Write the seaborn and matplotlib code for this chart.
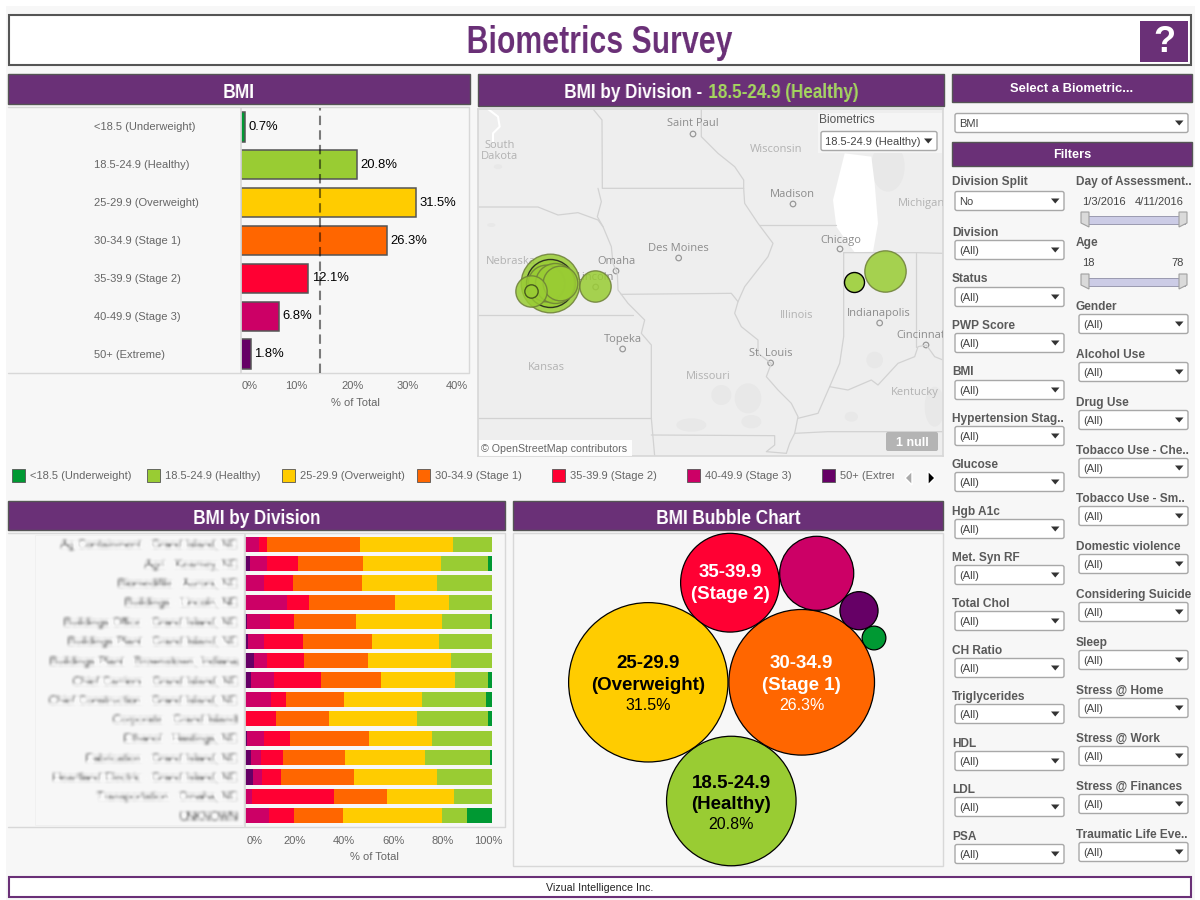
#!/usr/bin/env python3

import numpy as np
import pandas as pd
import matplotlib
matplotlib.use('Agg')
import matplotlib.pyplot as plt
import matplotlib.transforms as mtransforms
from matplotlib.patches import Rectangle, FancyBboxPatch, Polygon, Ellipse
import seaborn as sns

# --- data ---
bmi_labels = ['<18.5 (Underweight)', '18.5-24.9 (Healthy)', '25-29.9 (Overweight)',
              '30-34.9 (Stage 1)', '35-39.9 (Stage 2)', '40-49.9 (Stage 3)', '50+ (Extreme)']
bmi_colors = ['#009933', '#99CC33', '#FFCC00', '#FF6600', '#FF0033', '#CC0066', '#660066']
bmi_pct = [0.7, 20.8, 31.5, 26.3, 12.1, 6.8, 1.8]
bmi_average = 14.28
bmi_ticks = [0, 10, 20, 30, 40]

divisions = ['Ag Containment - Grand Island, NE', 'Agri - Kearney, NE', 'Biomedifile - Aurora, NE',
             'Buildings - Lincoln, NE', 'Buildings Office - Grand Island, NE',
             'Buildings Plant - Grand Island, NE', 'Buildings Plant - Brownstown, Indiana',
             'Chief Carriers - Grand Island, NE', 'Chief Construction - Grand Island, NE',
             'Corporate - Grand Island', 'Ethanol - Hastings, NE', 'Fabrication - Grand Island, NE',
             'Heartland Electric - Grand Island, NE', 'Transportation - Omaha, NE', 'UNKNOWN']
# columns run left to right in the stacked bars: extreme first, underweight last
div_extreme = [0, 2.0, 0.4, 0, 0.8, 1.2, 3.6, 2.4, 0, 0, 0.8, 2.4, 3.2, 0, 0]
div_stage3 = [5.7, 6.9, 7.4, 17.0, 9.3, 6.5, 5.3, 9.3, 10.5, 0, 6.9, 4.0, 3.6, 2.8, 9.7]
div_stage2 = [3.2, 12.6, 11.7, 8.9, 9.7, 15.8, 15.0, 19.0, 6.1, 12.6, 10.5, 8.9, 7.7, 33.2, 10.1]
div_stage1 = [37.7, 26.3, 27.9, 34.8, 25.1, 27.9, 25.9, 24.3, 23.5, 21.5, 32.0, 25.1, 29.6, 21.5, 19.8]
div_over = [37.7, 31.6, 30.4, 21.9, 34.8, 27.1, 33.6, 30.0, 31.6, 35.6, 25.5, 32.4, 33.6, 27.1, 40.1]
div_healthy = [15.7, 19.0, 22.2, 17.4, 19.5, 21.5, 16.6, 13.4, 25.9, 28.7, 24.3, 26.3, 22.3, 15.4, 10.1]
div_under = [0, 1.6, 0, 0, 0.8, 0, 0, 1.6, 2.4, 1.6, 0, 0.8, 0, 0, 10.1]
div_ticks = [0, 20, 40, 60, 80, 100]

# packed bubble centres (page pixels)
bubble_x = [874, 731.3, 648.3, 801.7, 730, 816.7, 859]
bubble_y = [638, 801, 682.3, 682.3, 582.7, 573.3, 610.7]

# map bubbles, in map units (3 per page pixel)
map_x = [215, 215, 205, 230, 245, 158, 158, 352, 1220]
map_y = [638, 638, 640, 640, 640, 662, 662, 648, 602]
map_radius = [88, 72, 55, 60, 52, 47, 20, 47, 62]
map_edge = ['#6d7f38', 'k', '#6d7f38', '#6d7f38', '#6d7f38', '#6d7f38', '#39451a', '#6d7f38', '#6d7f38']
map_black_x = [1127]
map_black_y = [636]
map_black_radius = [30]

big_places = ['Saint Paul', 'Madison', 'Des Moines', 'Chicago', 'Omaha', 'Lincoln',
              'Indianapolis', 'Cincinnati', 'Topeka', 'St. Louis']
big_x = [645, 943, 602, 1087, 415, 353, 1202, 1332, 434, 878]
big_y = [162, 373, 535, 510, 576, 622, 730, 798, 808, 852]
dot_x = [645, 945, 602, 1086, 414, 353, 1205, 1344, 434, 878]
dot_y = [192, 402, 564, 537, 603, 651, 759, 825, 837, 879]
state_names = ['South\nDakota', 'Wisconsin', 'Michigan', 'Nebraska', 'Illinois', 'Kansas', 'Missouri', 'Kentucky']
state_x = [64, 895, 1330, 98, 955, 205, 691, 1310]
state_y = [242, 240, 400, 576, 736, 892, 919, 967]

borders = [
    [(0, 411), (180, 411), (240, 435), (300, 428), (360, 450), (375, 470)],
    [(345, 117), (372, 150), (373, 355), (797, 355)],
    [(360, 355), (370, 395), (358, 440), (375, 470), (400, 530), (405, 580), (418, 610), (420, 660),
     (450, 700), (500, 750), (490, 790), (520, 825), (520, 1045), (530, 1158)],
    [(0, 736), (465, 736)],
    [(430, 673), (760, 670), (780, 695)],
    [(0, 1045), (520, 1045)],
    [(520, 1095), (890, 1097), (890, 1125), (865, 1145), (925, 1150)],
    [(670, 117), (670, 200), (720, 250), (770, 290), (797, 330), (797, 355), (800, 400), (840, 460),
     (885, 520), (870, 560), (800, 650), (780, 695), (770, 730), (790, 770), (840, 810), (840, 850),
     (880, 880), (865, 920), (900, 960), (940, 1000), (960, 1040), (950, 1090), (935, 1120), (925, 1150)],
    [(845, 465), (1075, 465)],
    [(1097, 548), (1097, 800), (1085, 880), (1055, 950), (1020, 1030), (960, 1045)],
    [(1055, 950), (1110, 960), (1180, 930), (1200, 945), (1260, 880), (1310, 860), (1320, 830),
     (1345, 825), (1370, 860), (1395, 870)],
    [(1097, 548), (1315, 548), (1395, 550)],
    [(1315, 548), (1315, 830)],
    [(950, 1090), (1050, 1085), (1395, 1085)],
]
lake = [(1100, 250), (1080, 330), (1065, 390), (1075, 470), (1110, 520), (1130, 547), (1185, 545),
        (1200, 460), (1190, 340), (1180, 260)]
river = [(30, 117), (60, 140), (65, 170), (45, 190), (45, 215)]
land_blobs = [(730, 975, 60, 60), (810, 985, 80, 90), (1190, 870, 50, 50), (1230, 290, 100, 150),
              (640, 1065, 90, 40), (820, 1055, 60, 40), (1370, 1010, 60, 120), (40, 465, 25, 12),
              (60, 290, 25, 15), (1120, 1040, 40, 30)]

filters_left = ['Division Split', 'Division', 'Status', 'PWP Score', 'BMI', 'Hypertension Stag..',
                'Glucose', 'Hgb A1c', 'Met. Syn RF', 'Total Chol', 'CH Ratio', 'Triglycerides',
                'HDL', 'LDL', 'PSA']
filters_left_label_y = [181, 232, 278, 325, 371, 418, 464, 511, 557, 603, 650, 696, 743, 789, 836]
filters_left_box_y = [201, 250, 297, 343, 390, 436, 482, 529, 575, 621, 668, 714, 761, 807, 854]
filters_right = ['Gender', 'Alcohol Use', 'Drug Use', 'Tobacco Use - Che..', 'Tobacco Use - Sm..',
                 'Domestic violence', 'Considering Suicide', 'Sleep', 'Stress @ Home', 'Stress @ Work',
                 'Stress @ Finances', 'Traumatic Life Eve..']
filters_right_label_y = [306, 354, 402, 450, 498, 546, 594, 642, 690, 738, 786, 834]
filters_right_box_y = [324, 372, 420, 468, 516, 564, 612, 660, 708, 756, 804, 852]

PURPLE = '#6A3077'
PANEL = '#F7F7F7'
LINE = '#D8D8D8'
TEXT = '#5A5A5A'

sns.set_theme(style='white')
plt.rcParams['font.family'] = ['Liberation Sans', 'DejaVu Sans']


def blur_filter(image, dpi):
    # soften the division names the way the source dashboard does
    pad = 6
    out = np.pad(image, ((pad, pad), (pad, pad), (0, 0)))
    kernel = np.array([1, 3, 5, 6, 5, 3, 1], dtype=float)
    kernel /= kernel.sum()
    for axis in (0, 1):
        out = np.apply_along_axis(lambda v: np.convolve(v, kernel, mode='same'), axis, out)
    return np.clip(out * 1.35, 0, 1), -pad, -pad


def squeeze_filter(ratio, ha):
    # no narrow bold font is installed, so headings get pinched sideways
    def apply(image, dpi):
        w = image.shape[1]
        new_w = max(int(round(w * ratio)), 1)
        xs = np.linspace(0, w - 1, new_w)
        i0 = xs.astype(int)
        i1 = np.minimum(i0 + 1, w - 1)
        frac = (xs - i0)[None, :, None]
        out = image[:, i0] * (1 - frac) + image[:, i1] * frac
        shift = {'left': 0, 'center': (w - new_w) // 2, 'right': w - new_w}[ha]
        return out, shift, 0
    return apply


fig = plt.figure(figsize=(12, 9), dpi=100, facecolor='white')


def add_px_axes(x0, y0, x1, y1, zorder=1):
    ax = fig.add_axes([x0 / 1200, 1 - y1 / 900, (x1 - x0) / 1200, (y1 - y0) / 900], zorder=zorder)
    ax.patch.set_alpha(0)
    return ax


page = add_px_axes(0, 0, 1200, 900, zorder=0)
page.set_xlim(0, 1200)
page.set_ylim(900, 0)
page.axis('off')


def rect(x0, y0, x1, y1, fc, ec='none', lw=0.0):
    page.add_patch(Rectangle((x0, y0), x1 - x0, y1 - y0, facecolor=fc, edgecolor=ec, linewidth=lw))


def head_text(x, y, s, size=15, color='white', ha='center', ratio=0.82):
    t = page.text(x, y, s, fontsize=size, color=color, ha=ha, va='center', fontweight='bold')
    t.set_agg_filter(squeeze_filter(ratio, ha))
    return t


def dropdown(ax, x0, x1, yc, label, size=8):
    ax.add_patch(FancyBboxPatch((x0, yc - 9.5), x1 - x0, 19, boxstyle='round,pad=0,rounding_size=2',
                                facecolor='white', edgecolor='#A8A8A8', linewidth=1))
    ax.text(x0 + 4, yc + 0.8, label, fontsize=size, color='#444444', va='center', ha='left')
    ax.add_patch(Polygon([(x1 - 13, yc - 2.5), (x1 - 4.5, yc - 2.5), (x1 - 8.75, yc + 2.5)],
                         facecolor='#333333', edgecolor='none'))


def slider(yc):
    page.add_patch(Rectangle((1084, yc - 4), 101, 8, facecolor='#CCCCE6', edgecolor='#9A9AB0', linewidth=0.7))
    for x0, x1, tip in ((1081, 1089, 1089), (1179, 1187, 1179)):
        page.add_patch(Polygon([(x0, yc - 8), (x1, yc - 8), (x1, yc + 3), (tip, yc + 7), (x0, yc + 3)],
                               facecolor='#DADADA', edgecolor='#A0A0A0', linewidth=0.8))


def nudge(label, dx):
    label.set_transform(label.get_transform() + mtransforms.Affine2D().translate(dx, 0))


# page furniture
rect(6, 6, 1195, 900, PANEL)
rect(9, 15, 1191, 65, 'white', '#555555', 1.5)
head_text(600, 43, 'Biometrics Survey', size=28, color=PURPLE, ratio=0.78)
rect(1140, 21, 1188, 62, PURPLE)
page.text(1164, 42.5, '?', fontsize=26, color='white', ha='center', va='center', fontweight='bold')
rect(9, 877, 1191, 897, 'white', PURPLE, 1.5)
page.text(600, 888, 'Vizual Intelligence Inc.', fontsize=7.7, color='#222222', ha='center', va='center')

for x0, y0, x1, y1 in ((8, 74, 470, 104), (478, 74, 944, 106), (952, 74, 1192, 102),
                       (952, 142, 1192, 166), (8, 501, 505, 530), (513, 501, 943, 530)):
    rect(x0, y0, x1, y1, PURPLE, '#555555', 1)
head_text(239, 92, 'BMI')
head_text(702, 93, 'BMI by Division -', ha='right')
head_text(708, 93, '18.5-24.9 (Healthy)', color='#A4D65E', ha='left')
head_text(257, 519, 'BMI by Division')
head_text(729, 519, 'BMI Bubble Chart')
page.text(1072, 88.5, 'Select a Biometric...', fontsize=9.4, color='white', ha='center', va='center', fontweight='bold')
page.text(1072, 154.5, 'Filters', fontsize=9.2, color='white', ha='center', va='center', fontweight='bold')

# the two bar panels have no left rule
for x0, y0, x1, y1 in ((8, 107, 469, 373), (8, 533, 505, 827)):
    page.plot([x0, x1, x1, x0], [y0, y0, y1, y1], color=LINE, lw=1.0)
rect(513, 533, 943, 866, PANEL, LINE, 1)
rect(35, 535, 243, 825, 'none', '#F0F0F0', 0.7)

# --- BMI bars ---
ax_bmi = add_px_axes(241, 108, 469, 373)
bmi_df = pd.DataFrame({'bmi': bmi_labels, 'pct': bmi_pct})
sns.barplot(data=bmi_df, x='pct', y='bmi', hue='bmi', palette=dict(zip(bmi_labels, bmi_colors)),
            dodge=False, legend=False, width=0.77, saturation=1, edgecolor='#555555', linewidth=1.1, ax=ax_bmi)
ax_bmi.axvline(bmi_average, color='black', alpha=0.5, lw=1.5, dashes=(4.5, 2.5), zorder=5)
for container in ax_bmi.containers:
    ax_bmi.bar_label(container, fmt='%.1f%%', padding=2.5, fontsize=9.4, color='black', zorder=6)
ax_bmi.set_xlim(0, 41)
ax_bmi.set_ylim(6.5, -0.5)
ax_bmi.set_xticks(bmi_ticks)
ax_bmi.set_xticklabels([f'{t}%' for t in bmi_ticks], fontsize=8, color='#666666')
ax_bmi.tick_params(axis='x', length=4, width=0.8, color=LINE, pad=2)
ax_bmi.tick_params(axis='y', length=0, labelleft=False)
nudge(ax_bmi.get_xticklabels()[0], 9)
nudge(ax_bmi.get_xticklabels()[-1], -7)
ax_bmi.set_xlabel('')
ax_bmi.set_ylabel('')
sns.despine(ax=ax_bmi, top=True, right=True, bottom=True)
ax_bmi.spines['left'].set_color(LINE)
page.text(355, 403, '% of Total', fontsize=8, color='#666666', ha='center', va='center')
for i, label in enumerate(bmi_labels):
    page.text(94, 126.5 + 38 * i, label, fontsize=8, color='#666666', ha='left', va='center')

# --- legend strip ---
legend_squares = [12, 147, 282, 417, 552, 687, 822]
for x, label, color in zip(legend_squares, bmi_labels, bmi_colors):
    rect(x, 468.5, x + 13, 481.5, color, '#555555', 0.6)
    t = page.text(x + 18, 476, label, fontsize=8, color='#666666', ha='left', va='center')
    t.set_clip_box(mtransforms.Bbox([[0, 0], [894, 900]]))
    t.set_clip_on(True)
page.add_patch(Polygon([(912, 471), (912, 485), (905, 478)], facecolor='#AAAAAA'))
page.add_patch(Polygon([(928, 471), (928, 485), (935, 478)], facecolor='black'))

# --- map ---
ax_map = add_px_axes(478, 109, 943, 456, zorder=1)
ax_map.set_xlim(0, 1395)
ax_map.set_ylim(1158, 117)
ax_map.patch.set_facecolor('#EEEEEE')
ax_map.patch.set_alpha(1)
ax_map.set_xticks([])
ax_map.set_yticks([])
for spine in ax_map.spines.values():
    spine.set_color(LINE)
for cx, cy, w, h in land_blobs:
    ax_map.add_patch(Ellipse((cx, cy), w, h, facecolor='#E8E8E8', edgecolor='none'))
ax_map.add_patch(Polygon(lake, facecolor='white', edgecolor='none'))
ax_map.plot(*zip(*river), color='white', lw=1.5)
for border in borders:
    ax_map.plot(*zip(*border), color='#D2D2D2', lw=0.9, solid_joinstyle='round')
for s, x, y in zip(state_names, state_x, state_y):
    ax_map.text(x, y, s, fontsize=8, color='#B2B2B2', ha='center', va='center', linespacing=1.0,
                family='Open Sans', clip_on=True)
for s, x, y in zip(big_places, big_x, big_y):
    ax_map.text(x, y, s, fontsize=8, color='#8C8C8C', ha='center', va='center', family='Open Sans', clip_on=True)
sns.scatterplot(x=dot_x, y=dot_y, s=16, facecolor='none', edgecolor='#999999', linewidth=0.9, legend=False, ax=ax_map)

map_df = pd.DataFrame({'x': map_x, 'y': map_y, 'radius': map_radius, 'edge': map_edge})
map_black = pd.DataFrame({'x': map_black_x, 'y': map_black_y, 'radius': map_black_radius})
r_scale = 2 * 0.72 / 3  # map units -> scatter diameter in points
for _, row in map_df.iterrows():
    sns.scatterplot(x=[row.x], y=[row.y], s=(row.radius * r_scale) ** 2, color='#99CC33', alpha=0.85,
                    edgecolor=row.edge, linewidth=1.0, legend=False, ax=ax_map, zorder=4)
sns.scatterplot(data=map_black, x='x', y='y', size='radius', sizes={30: (30 * r_scale) ** 2}, color='#A4D24A',
                edgecolor='black', linewidth=1.0, legend=False, ax=ax_map, zorder=5)
ax_map.set_xlim(0, 1395)
ax_map.set_ylim(1158, 117)
ax_map.set_xlabel('')
ax_map.set_ylabel('')

# things that sit on top of the map
over = add_px_axes(0, 0, 1200, 900, zorder=3)
over.set_xlim(0, 1200)
over.set_ylim(900, 0)
over.axis('off')
over.add_patch(Rectangle((818, 113), 124, 40, facecolor='#F5F5F5', edgecolor='none'))
over.text(819, 120, 'Biometrics', fontsize=8.6, color='#555555', ha='left', va='center')
dropdown(over, 821, 937, 141, '18.5-24.9 (Healthy)')
over.add_patch(FancyBboxPatch((886, 432), 52, 19, boxstyle='round,pad=0,rounding_size=2', facecolor='#B4B4B4', edgecolor='none'))
over.text(912, 442.5, '1 null', fontsize=9, color='white', ha='center', va='center', fontweight='bold')
over.add_patch(Rectangle((479, 440), 153, 16, facecolor='white', edgecolor='none', alpha=0.9))
over.text(481, 449, '\u00a9 OpenStreetMap contributors', fontsize=7.7, color='#666666', ha='left', va='center')

# --- stacked division bars ---
ax_div = add_px_axes(245, 534.5, 505, 825.5)
div_values = np.array([div_extreme, div_stage3, div_stage2, div_stage1, div_over, div_healthy, div_under], dtype=float)
div_cum = np.cumsum(div_values, axis=0)
div_colors = bmi_colors[::-1]
for k in range(len(div_colors) - 1, -1, -1):
    sns.barplot(x=div_cum[k], y=divisions, color=div_colors[k], saturation=1, width=0.776, linewidth=0, ax=ax_div)
ax_div.set_xlim(0, 105.3)
ax_div.set_ylim(14.5, -0.5)
ax_div.set_xticks(div_ticks)
ax_div.set_xticklabels([f'{t}%' for t in div_ticks], fontsize=8, color='#666666')
ax_div.tick_params(axis='x', length=6, width=0.8, color=LINE, pad=1.5)
ax_div.tick_params(axis='y', length=0, pad=5.5)
sns.despine(ax=ax_div, top=True, right=True, bottom=True)
ax_div.spines['left'].set_color(LINE)
ax_div.set_xlabel('')
ax_div.set_ylabel('')
for label in ax_div.get_yticklabels():
    label.set_fontsize(8)
    label.set_color('#333333')
    label.set_agg_filter(blur_filter)
nudge(ax_div.get_xticklabels()[0], 10)
nudge(ax_div.get_xticklabels()[-1], -4)
page.text(374, 857, '% of Total', fontsize=8, color='#666666', ha='center', va='center')

# --- bubble chart ---
ax_bub = add_px_axes(513, 533, 943, 866, zorder=2)
ax_bub.set_xlim(513, 943)
ax_bub.set_ylim(866, 533)
ax_bub.axis('off')
bub_df = pd.DataFrame({'x': bubble_x, 'y': bubble_y, 'pct': bmi_pct, 'bmi': bmi_labels})
sns.scatterplot(data=bub_df, x='x', y='y', hue='bmi', palette=dict(zip(bmi_labels, bmi_colors)), size='pct',
                sizes=(0.7 * 418, 31.5 * 418), size_norm=(0.7, 31.5), edgecolor='black', linewidth=0.9,
                alpha=1, legend=False, clip_on=False, ax=ax_bub)
ax_bub.set_xlim(513, 943)
ax_bub.set_ylim(866, 533)
bub_text = [(1, 'black', '18.5-24.9', '(Healthy)', 783, 804, 824),
            (2, 'black', '25-29.9', '(Overweight)', 663, 685, 705.5),
            (3, 'white', '30-34.9', '(Stage 1)', 663, 685, 705.5),
            (4, 'white', '35-39.9', '(Stage 2)', 572, 594, None)]
for i, color, line1, line2, y1, y2, y3 in bub_text:
    cx = bubble_x[i]
    ax_bub.text(cx, y1, line1, fontsize=13.5, fontweight='bold', color=color, ha='center', va='center')
    ax_bub.text(cx, y2, line2, fontsize=13.5, fontweight='bold', color=color, ha='center', va='center')
    if y3:
        ax_bub.text(cx, y3, f'{bmi_pct[i]}%', fontsize=11.5, color=color, ha='center', va='center')

# --- filter column ---
dropdown(page, 955, 1188, 123, 'BMI')
for label, ly, by in zip(filters_left, filters_left_label_y, filters_left_box_y):
    page.text(952, ly + 1, label, fontsize=8.6, fontweight='bold', color=TEXT, ha='left', va='center')
    dropdown(page, 955, 1064, by, 'No' if label == 'Division Split' else '(All)')
for label, ly, by in zip(filters_right, filters_right_label_y, filters_right_box_y):
    page.text(1076, ly + 1, label, fontsize=8.6, fontweight='bold', color=TEXT, ha='left', va='center')
    dropdown(page, 1079, 1188, by, '(All)')
page.text(1076, 182, 'Day of Assessment..', fontsize=8.6, fontweight='bold', color=TEXT, ha='left', va='center')
page.text(1103.5, 202, '1/3/2016', fontsize=8, color='#444444', ha='center', va='center')
page.text(1159.5, 202, '4/11/2016', fontsize=8, color='#444444', ha='center', va='center')
slider(220)
page.text(1076, 243, 'Age', fontsize=8.6, fontweight='bold', color=TEXT, ha='left', va='center')
page.text(1088, 263, '18', fontsize=8, color='#444444', ha='center', va='center')
page.text(1178, 263, '78', fontsize=8, color='#444444', ha='center', va='center')
slider(282)

fig.savefig('out.png', dpi=100)
plt.close(fig)
